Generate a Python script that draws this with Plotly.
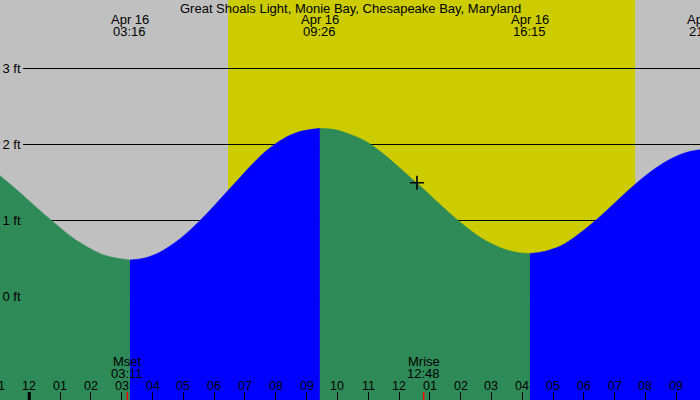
import plotly.graph_objects as go

# ---------------- data (hours after midnight Apr 16, heights in ft) ----------------
FALL1_T = [-1.0, -0.5, 0.0, 0.5, 1.0, 1.5, 2.0, 2.5, 3.267]
FALL1_H = [1.60, 1.43, 1.25, 1.07, 0.90, 0.74, 0.62, 0.53, 0.474]
RISE1_T = [3.267, 3.75, 4.25, 4.75, 5.25, 5.75, 6.25, 6.75, 7.25, 7.75, 8.25, 8.75, 9.433]
RISE1_H = [0.474, 0.50, 0.58, 0.71, 0.88, 1.08, 1.30, 1.52, 1.74, 1.93, 2.07, 2.16, 2.206]
FALL2_T = [9.433, 9.9, 10.4, 10.9, 11.4, 11.9, 12.4, 12.9, 13.4, 13.9, 14.4, 14.9, 15.4, 15.9, 16.25]
FALL2_H = [2.206, 2.19, 2.13, 2.04, 1.90, 1.73, 1.55, 1.37, 1.18, 1.00, 0.84, 0.71, 0.62, 0.57, 0.56]
RISE2_T = [16.25, 16.75, 17.25, 17.75, 18.25, 18.75, 19.25, 19.75, 20.25, 20.75, 21.25, 21.6, 21.95]
RISE2_H = [0.56, 0.59, 0.66, 0.79, 0.95, 1.13, 1.32, 1.50, 1.66, 1.79, 1.88, 1.915, 1.93]

TIDE_TIMES = [3.267, 9.433, 16.25, 21.95]
TIDE_DATES = ["Apr 16", "Apr 16", "Apr 16", "Apr 16"]
TIDE_LABELS = ["03:16", "09:26", "16:15", "21:57"]

SUNRISE = 6 + 27 / 60
SUNSET = 19 + 40 / 60

MOON_TIMES = [3 + 11 / 60, 12 + 48 / 60]
MOON_NAMES = ["Mset", "Mrise"]
MOON_LABELS = ["03:11", "12:48"]

HOUR_TICKS = list(range(-1, 22))
HOUR_LABELS = ["11", "12", "01", "02", "03", "04", "05", "06", "07", "08", "09", "10",
               "11", "12", "01", "02", "03", "04", "05", "06", "07", "08", "09"]

Y_TICKS = [0, 1, 2, 3]
Y_LABELS = ["0 ft", "1 ft", "2 ft", "3 ft"]

NOW_T = [12 + 35 / 60]
NOW_H = [1.49]

TITLE = "Great Shoals Light, Monie Bay, Chesapeake Bay, Maryland"

# ---------------- styling ----------------
X_RANGE = [-0.951, 21.77]
Y_RANGE = [-1.368, 3.895]
BASE = -3.0
GREY = "#C0C0C0"
YELLOW = "#CCCC00"
GREEN = "#2E8B57"
BLUE = "#0000FF"
FONT = "Arial, Liberation Sans, sans-serif"
W, H = 700, 400


def ypaper(px):
    return 1 - px / H


def xpaper(t):
    return (t - X_RANGE[0]) / (X_RANGE[1] - X_RANGE[0])


fig = go.Figure()

segments = [(FALL1_T, FALL1_H, GREEN), (RISE1_T, RISE1_H, BLUE),
            (FALL2_T, FALL2_H, GREEN), (RISE2_T, RISE2_H, BLUE)]
for ts, hs, col in segments:
    fig.add_trace(go.Scatter(x=ts, y=[BASE] * len(ts), mode="lines",
                             line=dict(width=0), hoverinfo="skip", showlegend=False))
    fig.add_trace(go.Scatter(x=ts, y=hs, mode="lines",
                             line=dict(width=0.5, color=col, shape="spline", smoothing=1),
                             fill="tonexty", fillcolor=col, hoverinfo="skip", showlegend=False))

fig.add_trace(go.Scatter(x=NOW_T, y=NOW_H, mode="markers",
                         marker=dict(symbol="cross-thin", size=10,
                                     line=dict(width=1.6, color="black")),
                         hoverinfo="skip", showlegend=False))

shapes = [dict(type="rect", layer="below", xref="x", yref="paper",
               x0=SUNRISE, x1=SUNSET, y0=0, y1=1, fillcolor=YELLOW, line=dict(width=0))]
# midnight marker
shapes.append(dict(type="line", xref="x", yref="paper", x0=0, x1=0,
                   y0=0, y1=8 / H, line=dict(color="black", width=3)))
for t in MOON_TIMES:
    shapes.append(dict(type="line", xref="x", yref="paper", x0=t, x1=t,
                       y0=0, y1=8 / H, line=dict(color="red", width=1.5)))


def label(text, xp, ypx, size=13, xanchor="center"):
    return dict(text=text, xref="paper", yref="paper", x=xp, y=ypaper(ypx),
                xanchor=xanchor, yanchor="middle", showarrow=False,
                font=dict(size=size, color="black", family=FONT))


annotations = [label(TITLE, 0.5, 8)]
for t, d, l in zip(TIDE_TIMES, TIDE_DATES, TIDE_LABELS):
    annotations.append(label(d, xpaper(t), 19.5))
    annotations.append(label(l, xpaper(t), 31.5))
for t, n, l in zip(MOON_TIMES, MOON_NAMES, MOON_LABELS):
    annotations.append(label(n, xpaper(t), 361.5))
    annotations.append(label(l, xpaper(t), 373.5))
for t, l in zip(HOUR_TICKS, HOUR_LABELS):
    annotations.append(label(l, xpaper(t), 386, size=12.5))
for v, l in zip(Y_TICKS, Y_LABELS):
    # labels sitting on the bare (grey) sky mask the grid line behind them
    on_sky = v > FALL1_H[0]
    annotations.append(dict(text=l, xref="paper", yref="y", x=0, y=v,
                            xanchor="left", yanchor="middle", showarrow=False,
                            bgcolor=GREY if on_sky else "rgba(0,0,0,0)",
                            borderpad=2.5, borderwidth=0,
                            font=dict(size=13, color="black", family=FONT)))

fig.update_layout(
    width=W, height=H,
    margin=dict(l=0, r=0, t=0, b=0),
    paper_bgcolor=GREY, plot_bgcolor=GREY,
    shapes=shapes, annotations=annotations,
    showlegend=False,
    xaxis=dict(range=X_RANGE, showgrid=False, zeroline=False, showline=False,
               tickmode="array", tickvals=HOUR_TICKS, ticktext=[""] * len(HOUR_TICKS),
               ticks="inside", ticklen=8, tickwidth=1, tickcolor="black",
               fixedrange=True),
    yaxis=dict(range=Y_RANGE, showgrid=True, gridcolor="black", gridwidth=1,
               zeroline=False, showline=False, tickmode="array", tickvals=Y_TICKS,
               showticklabels=False, ticks="", fixedrange=True),
)

fig.write_html("out.html", config={"displayModeBar": False})
